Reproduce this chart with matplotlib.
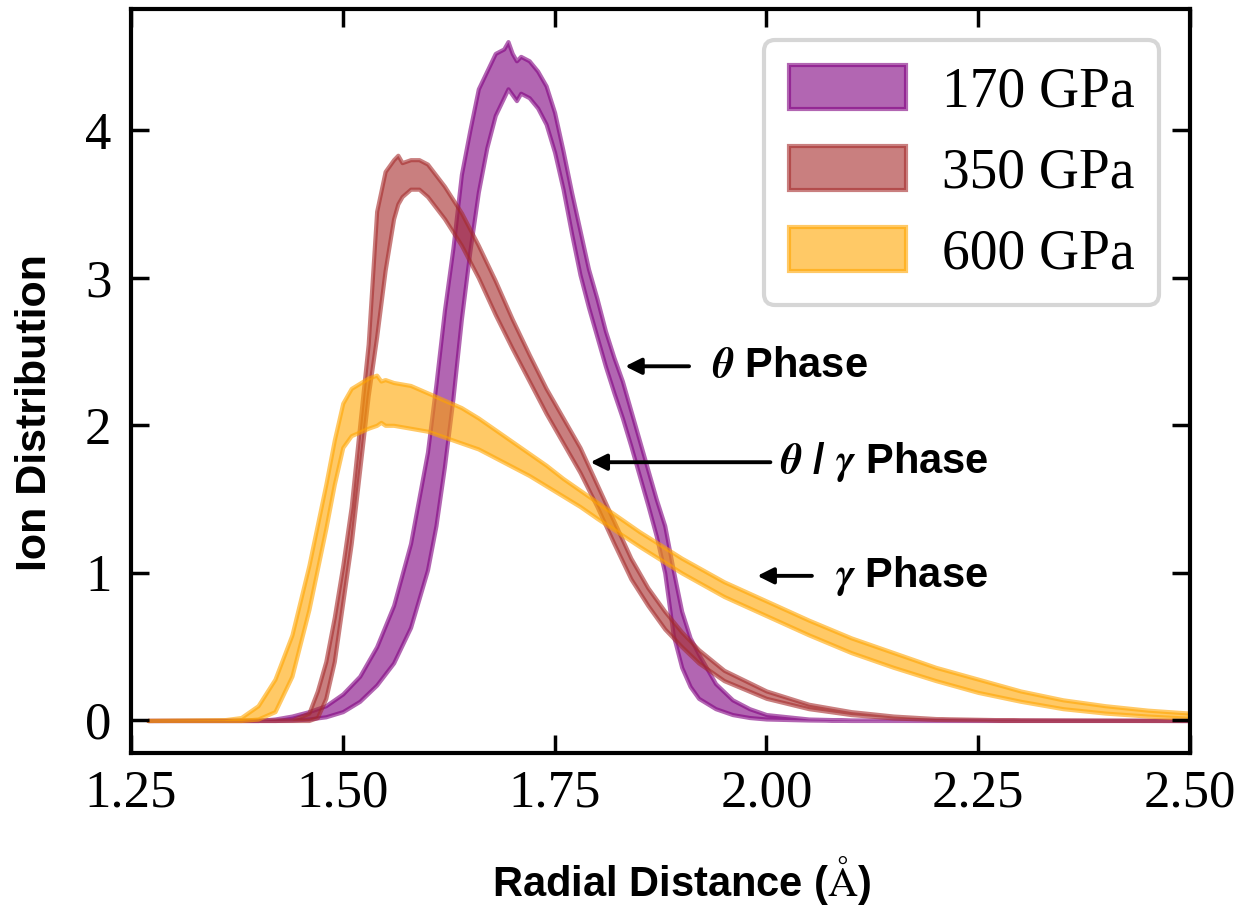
import matplotlib
matplotlib.use('Agg')
import matplotlib.pyplot as plt

plt.rcParams['mathtext.fontset'] = 'stix'

# 170 GPa band (lower / upper)
x_170 = [1.27, 1.40, 1.42, 1.44, 1.46, 1.48, 1.50, 1.52, 1.54, 1.56, 1.58, 1.60, 1.61, 1.62,
         1.63, 1.64, 1.65, 1.66, 1.67, 1.68, 1.69, 1.695, 1.70, 1.705, 1.71, 1.72, 1.73,
         1.74, 1.75, 1.76, 1.77, 1.78, 1.79, 1.80, 1.81, 1.82, 1.83, 1.84, 1.85, 1.86,
         1.87, 1.88, 1.89, 1.90, 1.91, 1.92, 1.94, 1.96, 1.98, 2.00, 2.05, 2.10, 2.50]
lo_170 = [0, 0, 0, 0.003, 0.01, 0.025, 0.06, 0.13, 0.24, 0.39, 0.63, 1.02, 1.32, 1.72,
          2.18, 2.72, 3.18, 3.58, 3.88, 4.1, 4.22, 4.28, 4.24, 4.2, 4.25, 4.22, 4.15,
          4.04, 3.85, 3.6, 3.3, 3.02, 2.8, 2.6, 2.4, 2.22, 2.05, 1.86, 1.66, 1.46,
          1.25, 1.0, 0.58, 0.36, 0.23, 0.15, 0.08, 0.04, 0.02, 0.01, 0.003, 0, 0]
hi_170 = [0, 0, 0.01, 0.03, 0.06, 0.1, 0.18, 0.3, 0.5, 0.78, 1.2, 1.82, 2.28, 2.78,
          3.2, 3.7, 4.0, 4.28, 4.4, 4.52, 4.55, 4.6, 4.52, 4.47, 4.5, 4.47, 4.4,
          4.3, 4.12, 3.86, 3.58, 3.32, 3.06, 2.86, 2.64, 2.46, 2.3, 2.1, 1.9, 1.7,
          1.5, 1.32, 1.02, 0.74, 0.56, 0.45, 0.25, 0.14, 0.08, 0.04, 0.01, 0.003, 0]

# 350 GPa band
x_350 = [1.27, 1.44, 1.46, 1.47, 1.48, 1.49, 1.50, 1.51, 1.52, 1.53, 1.54, 1.55, 1.56,
         1.565, 1.57, 1.58, 1.59, 1.60, 1.62, 1.64, 1.66, 1.68, 1.70, 1.72, 1.74, 1.76,
         1.78, 1.80, 1.82, 1.84, 1.86, 1.88, 1.90, 1.92, 1.95, 2.00, 2.05, 2.10, 2.15,
         2.20, 2.30, 2.50]
lo_350 = [0, 0, 0, 0.02, 0.15, 0.4, 0.8, 1.2, 1.7, 2.2, 2.6, 3.05, 3.4,
          3.5, 3.55, 3.6, 3.6, 3.55, 3.4, 3.22, 3.0, 2.75, 2.52, 2.3, 2.08, 1.88,
          1.68, 1.45, 1.2, 0.96, 0.78, 0.62, 0.5, 0.39, 0.27, 0.15, 0.08, 0.04, 0.017,
          0.007, 0.001, 0]
hi_350 = [0, 0.003, 0.05, 0.2, 0.4, 0.7, 1.05, 1.45, 2.0, 2.55, 3.45, 3.72, 3.8,
          3.83, 3.78, 3.8, 3.8, 3.77, 3.62, 3.44, 3.22, 2.98, 2.72, 2.48, 2.25, 2.05,
          1.85, 1.6, 1.35, 1.1, 0.9, 0.74, 0.6, 0.48, 0.34, 0.2, 0.11, 0.06, 0.03,
          0.013, 0.003, 0]

# 600 GPa band
x_600 = [1.27, 1.36, 1.38, 1.40, 1.42, 1.44, 1.46, 1.48, 1.49, 1.50, 1.51, 1.53, 1.54,
         1.545, 1.55, 1.56, 1.58, 1.60, 1.62, 1.64, 1.66, 1.68, 1.70, 1.72, 1.74, 1.76,
         1.78, 1.80, 1.85, 1.90, 1.95, 2.00, 2.05, 2.10, 2.15, 2.20, 2.25, 2.30, 2.35,
         2.40, 2.45, 2.50]
lo_600 = [0, 0, 0, 0.01, 0.06, 0.3, 0.75, 1.3, 1.6, 1.85, 1.93, 1.98, 2.0,
          2.02, 2.0, 2.0, 1.98, 1.96, 1.92, 1.88, 1.84, 1.78, 1.72, 1.66, 1.59, 1.52,
          1.45, 1.37, 1.18, 1.0, 0.84, 0.71, 0.58, 0.46, 0.36, 0.27, 0.19, 0.13, 0.08,
          0.05, 0.03, 0.015]
hi_600 = [0, 0.005, 0.02, 0.1, 0.28, 0.58, 1.05, 1.6, 1.9, 2.15, 2.25, 2.32, 2.34,
          2.3, 2.31, 2.29, 2.27, 2.22, 2.17, 2.12, 2.05, 1.97, 1.89, 1.81, 1.73, 1.64,
          1.56, 1.48, 1.28, 1.1, 0.94, 0.81, 0.68, 0.56, 0.46, 0.36, 0.28, 0.2, 0.14,
          0.1, 0.07, 0.05]

labels = ['170 GPa', '350 GPa', '600 GPa']
colors = ['purple', 'brown', 'orange']

fig = plt.figure(figsize=(12.4, 9.13), dpi=100)
ax = fig.add_axes([0.1056, 0.1753, 0.8541, 0.8147])

bands = [(x_170, lo_170, hi_170), (x_350, lo_350, hi_350), (x_600, lo_600, hi_600)]
for (xs, lo, hi), c, lab in zip(bands, colors, labels):
    ax.fill_between(xs, lo, hi, color=c, alpha=0.6, lw=3, label=lab)

ax.set_xlim(1.25, 2.50)
ax.set_ylim(-0.22, 4.82)
ax.set_xticks([1.25, 1.50, 1.75, 2.00, 2.25, 2.50])
ax.set_xticklabels(['1.25', '1.50', '1.75', '2.00', '2.25', '2.50'])
ax.set_yticks([0, 1, 2, 3, 4])

for s in ax.spines.values():
    s.set_linewidth(3)
ax.tick_params(direction='in', length=13, width=2.5, top=True, right=True,
               labelsize=38)
ax.tick_params(axis='x', pad=12)
ax.tick_params(axis='y', pad=14)
for t in ax.get_xticklabels() + ax.get_yticklabels():
    t.set_fontfamily('Liberation Serif')

ax.set_xlabel(r'Radial Distance ($\mathrm{\AA}$)', fontsize=30, fontweight='bold',
              fontfamily='Liberation Sans', labelpad=26)
ax.xaxis.label.set_x(0.52)
ax.set_ylabel('Ion Distribution', fontsize=31, fontweight='bold',
              fontfamily='Liberation Sans', labelpad=22)
ax.yaxis.label.set_y(0.458)

leg = ax.legend(loc='upper right', prop={'family': 'Liberation Serif', 'size': 40},
                handlelength=2.1, handleheight=0.85, handletextpad=0.65,
                labelspacing=0.5, borderaxespad=0.55, borderpad=0.45,
                fancybox=True, framealpha=1)
leg.get_frame().set_edgecolor('#d6d6d6')
leg.get_frame().set_linewidth(3)

arrow = dict(arrowstyle='-|>', color='black', lw=2.8, mutation_scale=24)
notes = [(r'$\mathbfit{\theta}$ Phase', 1.912, 1.83, 1.936, 2.40),
         (r'$\mathbfit{\theta}$ / $\mathbfit{\gamma}$ Phase', 2.008, 1.789, 2.016, 1.75),
         (r'$\mathbfit{\gamma}$ Phase', 2.057, 1.986, 2.081, 0.98)]
for txt, x0, x1, xt, y in notes:
    ax.annotate('', xy=(x1, y), xytext=(x0, y), arrowprops=arrow)
    ax.text(xt, y, txt, fontsize=30, fontweight='bold', fontfamily='Liberation Sans',
            va='center', ha='left')

plt.savefig('out.png', dpi=100)
